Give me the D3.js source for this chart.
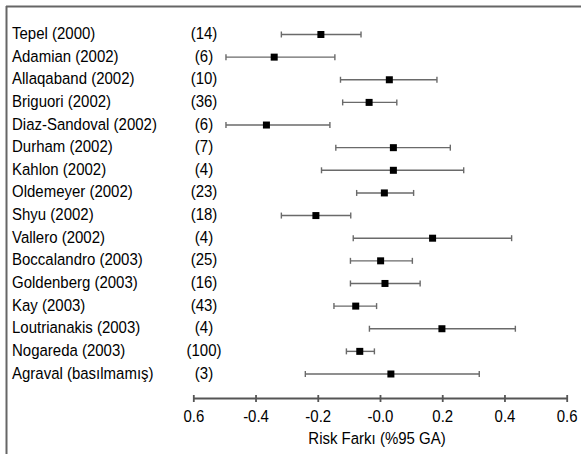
<!DOCTYPE html>
<html>
<head>
<meta charset="utf-8">
<script src="https://cdn.jsdelivr.net/npm/d3@7/dist/d3.min.js"></script>
<style>
  html, body { margin: 0; padding: 0; background: #fff; }
  svg { display: block; font-family: "Liberation Sans", Arial, Helvetica, sans-serif; }
</style>
</head>
<body>
<svg id="chart" width="581" height="454"></svg>
<script>
const studies = ["Tepel (2000)", "Adamian (2002)", "Allaqaband (2002)", "Briguori (2002)",
  "Diaz-Sandoval (2002)", "Durham (2002)", "Kahlon (2002)", "Oldemeyer (2002)", "Shyu (2002)",
  "Vallero (2002)", "Boccalandro (2003)", "Goldenberg (2003)", "Kay (2003)",
  "Loutrianakis (2003)", "Nogareda (2003)", "Agraval (basılmamış)"];
const counts = ["(14)", "(6)", "(10)", "(36)", "(6)", "(7)", "(4)", "(23)", "(18)", "(4)",
  "(25)", "(16)", "(43)", "(4)", "(100)", "(3)"];
const estimate = [-0.19, -0.34, 0.03, -0.035, -0.365, 0.043, 0.043, 0.014, -0.206, 0.169,
  0.002, 0.016, -0.078, 0.199, -0.065, 0.035];
const lower = [-0.317, -0.495, -0.127, -0.12, -0.495, -0.142, -0.188, -0.075, -0.317, -0.086,
  -0.095, -0.095, -0.148, -0.034, -0.108, -0.24];
const upper = [-0.061, -0.145, 0.183, 0.054, -0.161, 0.226, 0.269, 0.108, -0.094, 0.423,
  0.104, 0.129, -0.011, 0.435, -0.018, 0.319];
const tickValues = [-0.6, -0.4, -0.2, 0.0, 0.2, 0.4, 0.6];
const tickLabels = ["0.6", "-0.4", "-0.2", "-0.0", "0.2", "0.4", "0.6"];
const axisTitle = "Risk Farkı (%95 GA)";

const svg = d3.select("#chart");
const FS = 15, SY = 1.1;

// frame (top and left edges visible)
svg.append("line").attr("x1", 6).attr("x2", 581).attr("y1", 6.5).attr("y2", 6.5)
  .attr("stroke", "#666").attr("stroke-width", 2);
svg.append("line").attr("x1", 6.5).attr("x2", 6.5).attr("y1", 6).attr("y2", 454)
  .attr("stroke", "#666").attr("stroke-width", 2);

const x = d3.scaleLinear().domain([-0.6, 0.6]).range([193.3, 566.7]);
const y = d3.scalePoint().domain(d3.range(studies.length)).range([34.5, 374]);

const rows = studies.map((s, i) => ({ s, n: counts[i], e: estimate[i], lo: lower[i], hi: upper[i], i }));

const g = svg.append("g");
const row = g.selectAll("g.row").data(rows).enter().append("g").attr("class", "row");

row.append("text").attr("transform", d => `translate(12,${y(d.i) + 4.5}) scale(1,${SY})`)
  .attr("font-size", FS).attr("fill", "#000").text(d => d.s);
row.append("text").attr("transform", d => `translate(204,${y(d.i) + 4.5}) scale(1,${SY})`)
  .attr("text-anchor", "middle").attr("font-size", FS).attr("fill", "#000").text(d => d.n);

row.append("line").attr("x1", d => x(d.lo)).attr("x2", d => x(d.hi))
  .attr("y1", d => y(d.i)).attr("y2", d => y(d.i))
  .attr("stroke", "#6a6a6a").attr("stroke-width", 1.4);
row.append("line").attr("x1", d => x(d.lo)).attr("x2", d => x(d.lo))
  .attr("y1", d => y(d.i) - 3).attr("y2", d => y(d.i) + 3)
  .attr("stroke", "#6a6a6a").attr("stroke-width", 1.4);
row.append("line").attr("x1", d => x(d.hi)).attr("x2", d => x(d.hi))
  .attr("y1", d => y(d.i) - 3).attr("y2", d => y(d.i) + 3)
  .attr("stroke", "#6a6a6a").attr("stroke-width", 1.4);
row.append("rect").attr("x", d => x(d.e) - 3.5).attr("y", d => y(d.i) - 3.5)
  .attr("width", 7).attr("height", 7).attr("fill", "#000");

// axis
const axis = d3.axisBottom(x).tickValues(tickValues)
  .tickFormat((d, i) => tickLabels[i]).tickSize(4).tickSizeOuter(0).tickPadding(10);
const ax = svg.append("g").attr("transform", "translate(0,398)").call(axis);
ax.select(".domain").attr("stroke", "#555").attr("stroke-width", 1.8);
ax.selectAll(".tick line").attr("stroke", "#555").attr("stroke-width", 1.8).attr("y1", -3).attr("y2", 4);
ax.selectAll(".tick text").attr("font-size", FS).attr("fill", "#000")
  .attr("font-family", "'Liberation Sans', Arial, sans-serif")
  .attr("y", 0).attr("dy", null)
  .attr("transform", `translate(0,24) scale(1,${SY})`);

svg.append("text").attr("transform", `translate(${x(0) - 3},444) scale(1,${SY})`)
  .attr("text-anchor", "middle").attr("font-size", FS).attr("fill", "#000").text(axisTitle);
</script>
</body>
</html>
